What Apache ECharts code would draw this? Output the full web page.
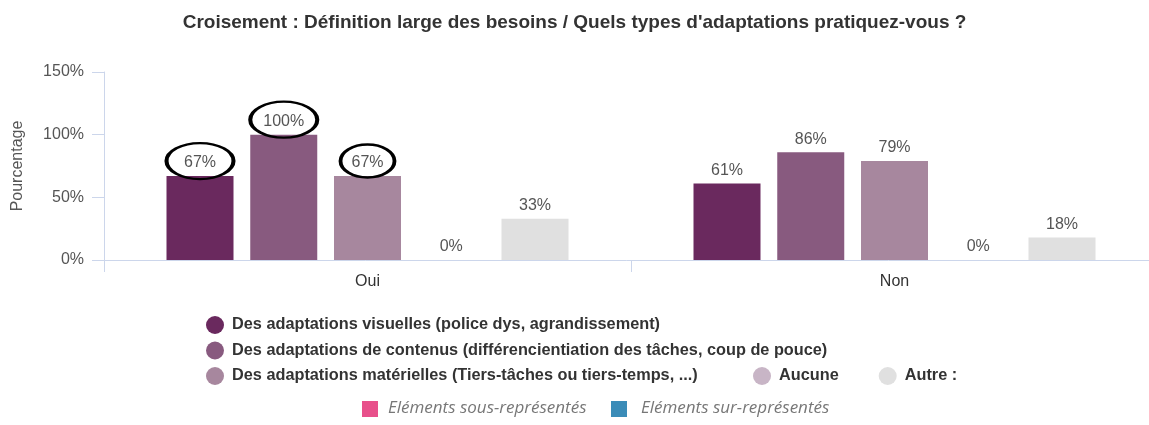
<!DOCTYPE html>
<html>
<head>
<meta charset="utf-8">
<script src="https://cdn.jsdelivr.net/npm/echarts@6/dist/echarts.min.js"></script>
<style>
  html, body { margin: 0; padding: 0; background: #fff; }
  #chart { width: 1149px; height: 425px; }
</style>
</head>
<body>
<div id="chart"></div>
<script>
  // data
  const categories = ['Oui', 'Non']
  const seriesNames = [
    'Des adaptations visuelles (police dys, agrandissement)',
    'Des adaptations de contenus (différencientiation des tâches, coup de pouce)',
    'Des adaptations matérielles (Tiers-tâches ou tiers-temps, ...)',
    'Aucune',
    'Autre :'
  ]
  const visuelles = [67, 61]
  const contenus = [100, 86]
  const materielles = [67, 79]
  const aucune = [0, 0]
  const autre = [33, 18]
  const yTicks = [0, 50, 100, 150]
  // bars circled by hand in the reference: [series index, category]
  const circled = [[0, 'Oui'], [1, 'Oui'], [2, 'Oui']]

  const colors = ['#6a295e', '#885a7f', '#a7879e', '#c8b5c6', '#e0e0e0']
  const values = [visuelles, contenus, materielles, aucune, autre]
  const axisColor = '#ccd6eb'
  const font = 'Liberation Sans, Arial, sans-serif'

  const ellipse = 'path://M0,20 A40,20 0 1,1 80,20 A40,20 0 1,1 0,20 Z'

  const series = values.map(function(vals, i) {
    const marks = circled.filter(function(c) { return c[0] === i })
    const s = {
      name: seriesNames[i],
      type: 'bar',
      barWidth: 67,
      barGap: '25%',
      itemStyle: { color: colors[i] },
      label: {
        show: true,
        position: 'top',
        formatter: '{c}%',
        color: '#555',
        fontSize: 16,
        fontFamily: font
      },
      data: vals
    }
    if (marks.length) {
      s.markPoint = {
        symbol: ellipse,
        symbolKeepAspect: false,
        symbolSize: i === 2 ? [54, 33] : [67, 36],
        symbolOffset: [0, -15],
        silent: true,
        label: { show: false },
        itemStyle: { color: 'transparent', borderColor: '#000', borderWidth: 3 },
        data: marks.map(function(c) {
          return { coord: [c[1], vals[categories.indexOf(c[1])]] }
        })
      }
    }
    return s
  })

  const chart = echarts.init(document.getElementById('chart'), null, { renderer: 'canvas' })
  chart.setOption({
    animation: false,
    color: colors,
    title: {
      text: 'Croisement : Définition large des besoins / Quels types d\'adaptations pratiquez-vous ?',
      left: 'center',
      top: 8,
      textStyle: { fontSize: 19, fontWeight: 'bold', color: '#333', fontFamily: font }
    },
    grid: {
      left: 104,
      top: 72,
      width: 1054,
      bottom: 165,
      outerBoundsMode: 'none'
    },
    legend: [{
      orient: 'vertical',
      left: 201,
      top: 311,
      icon: 'circle',
      itemWidth: 18,
      itemHeight: 18,
      itemGap: 7.5,
      selectedMode: false,
      data: seriesNames.slice(0, 3),
      textStyle: { fontSize: 16.3, fontWeight: 'bold', color: '#333', fontFamily: font, padding: [0, 0, 0, 3] }
    }, {
      orient: 'horizontal',
      left: 748,
      top: 362,
      icon: 'circle',
      itemWidth: 18,
      itemHeight: 18,
      itemGap: 40,
      selectedMode: false,
      data: seriesNames.slice(3),
      textStyle: { fontSize: 16.3, fontWeight: 'bold', color: '#333', fontFamily: font, padding: [0, 0, 0, 3] }
    }],
    xAxis: {
      type: 'category',
      data: categories,
      axisLine: { lineStyle: { color: axisColor } },
      axisTick: { show: true, length: 12, lineStyle: { color: axisColor } },
      axisLabel: { color: '#333', fontSize: 16, margin: 14, fontFamily: font }
    },
    yAxis: {
      type: 'value',
      min: yTicks[0],
      max: yTicks[yTicks.length - 1],
      interval: yTicks[1] - yTicks[0],
      name: 'Pourcentage',
      nameLocation: 'middle',
      nameGap: 78,
      nameTextStyle: { color: '#555', fontSize: 16, fontFamily: font },
      axisLine: { show: true, lineStyle: { color: axisColor } },
      axisTick: { show: true, length: 12, lineStyle: { color: axisColor } },
      splitLine: { show: false },
      axisLabel: { color: '#555', fontSize: 16, margin: 20, fontFamily: font, formatter: '{value}%' }
    },
    graphic: [
      { type: 'rect', left: 362, top: 401, shape: { width: 16, height: 16 }, style: { fill: '#e8508b' } },
      { type: 'text', left: 388, top: 400, style: { text: 'Eléments sous-représentés', fill: '#777', font: 'italic 17px "Open Sans", sans-serif' } },
      { type: 'rect', left: 611, top: 401, shape: { width: 16, height: 16 }, style: { fill: '#3b8cb8' } },
      { type: 'text', left: 641, top: 400, style: { text: 'Eléments sur-représentés', fill: '#777', font: 'italic 17px "Open Sans", sans-serif' } }
    ],
    series: series
  })
</script>
</body>
</html>
